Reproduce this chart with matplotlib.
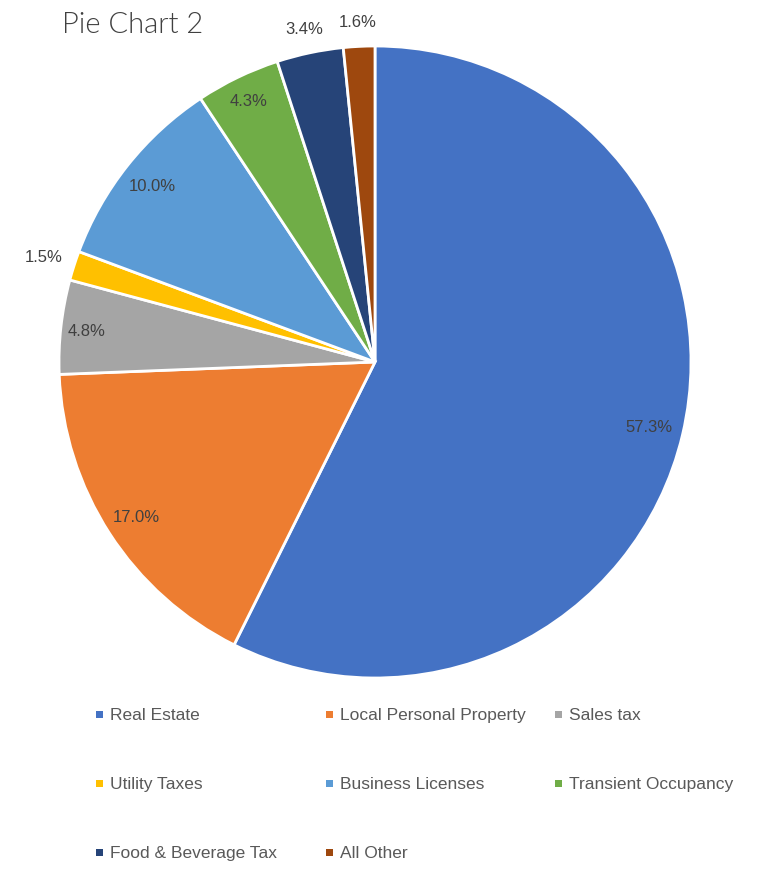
import matplotlib.pyplot as plt
from matplotlib.patches import Rectangle
import numpy as np

categories = ["Real Estate", "Local Personal Property", "Sales tax", "Utility Taxes",
              "Business Licenses", "Transient Occupancy", "Food & Beverage Tax", "All Other"]
shares = [57.3, 17.0, 4.8, 1.5, 10.0, 4.3, 3.4, 1.6]
pct_labels = ["57.3%", "17.0%", "4.8%", "1.5%", "10.0%", "4.3%", "3.4%", "1.6%"]

colors = ["#4472C4", "#ED7D31", "#A5A5A5", "#FFC000", "#5B9BD5", "#70AD47", "#264478", "#9E480E"]
# radial distance of each data label (Excel puts the thin slices outside)
label_dist = [0.89, 0.90, 0.92, 1.10, 0.90, 0.92, 1.08, 1.08]

W, H = 769, 869
narrow = ["Liberation Sans", "DejaVu Sans"]

fig = plt.figure(figsize=(W / 100, H / 100), dpi=100)
ax = fig.add_axes([59 / W, 191 / H, 632 / W, 632 / H])

wedges, _ = ax.pie(shares, colors=colors, startangle=90, counterclock=False, radius=1,
                   wedgeprops=dict(edgecolor="white", linewidth=2))
ax.set_xlim(-1, 1)
ax.set_ylim(-1, 1)
ax.set_aspect("equal")
ax.axis("off")

for w, txt, d in zip(wedges, pct_labels, label_dist):
    mid = np.deg2rad((w.theta1 + w.theta2) / 2)
    ax.text(d * np.cos(mid), d * np.sin(mid), txt, ha="center", va="center_baseline",
            fontsize=12, color="#404040", family=narrow, clip_on=False)

fig.text(62 / W, 1 - 33 / H, "Pie Chart 2", ha="left", va="baseline", fontsize=21,
         family=["Lato", "DejaVu Sans"], fontweight=300, color="#404040")

# legend, Excel style grid: three columns, row-major order
col_x = [96, 326, 555]
row_y = [714, 783, 852]
for i, (name, c) in enumerate(zip(categories, colors)):
    x = col_x[i % 3]
    y = row_y[i // 3]
    fig.patches.append(Rectangle((x / W, 1 - (y + 3.5) / H), 7 / W, 7 / H,
                                 transform=fig.transFigure, facecolor=c, edgecolor="none"))
    fig.text((x + 14) / W, 1 - (y + 6) / H, name, ha="left", va="baseline", fontsize=12.5,
             color="#595959", family=narrow)

fig.savefig("out.png", dpi=100)
